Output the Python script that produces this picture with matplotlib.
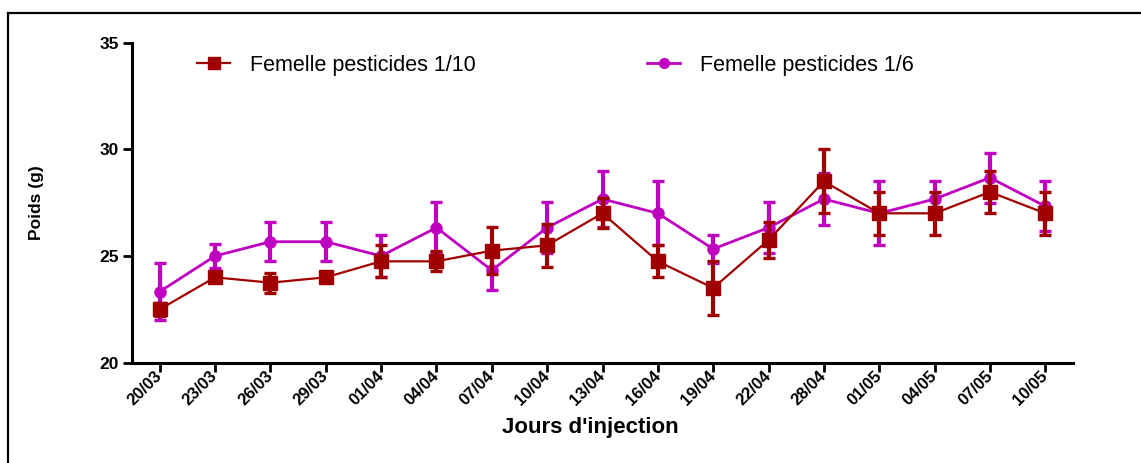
import matplotlib
matplotlib.use("Agg")
import matplotlib.pyplot as plt
from matplotlib.lines import Line2D
import numpy as np

dates = ["20/03", "23/03", "26/03", "29/03", "01/04", "04/04", "07/04", "10/04",
         "13/04", "16/04", "19/04", "22/04", "28/04", "01/05", "04/05", "07/05", "10/05"]

f10_mean = [22.5, 24.0, 23.75, 24.0, 24.75, 24.75, 25.25, 25.5,
            27.0, 24.75, 23.5, 25.75, 28.5, 27.0, 27.0, 28.0, 27.0]
f10_err = [0.3, 0.0, 0.47, 0.0, 0.75, 0.47, 1.1, 1.0,
           0.7, 0.75, 1.25, 0.85, 1.5, 1.0, 1.0, 1.0, 1.0]

f6_mean = [23.33, 25.0, 25.67, 25.67, 25.0, 26.33, 24.33, 26.33,
           27.67, 27.0, 25.33, 26.33, 27.67, 27.0, 27.67, 28.67, 27.33]
f6_err = [1.33, 0.55, 0.9, 0.9, 1.0, 1.2, 0.9, 1.2,
          1.33, 1.5, 0.67, 1.2, 1.2, 1.5, 0.85, 1.17, 1.17]

label10 = "Femelle pesticides 1/10"
label6 = "Femelle pesticides 1/6"
xlabel = "Jours d'injection"
ylabel = "Poids (g)"

RED = "#A00000"
MAG = "#C000C0"

plt.rcParams['font.family'] = ['Liberation Sans', 'DejaVu Sans']

fig = plt.figure(figsize=(11.41, 4.63), dpi=100)
W, H = 1141, 463
ax = fig.add_axes([132 / W, 1 - 362.7 / H, (1073 - 132) / W, (362.7 - 42.6) / H])

x = np.arange(len(dates))
ax.errorbar(x, f6_mean, yerr=f6_err, color=MAG, marker='o', markersize=8,
            linewidth=2.0, elinewidth=3.0, capsize=4.2, capthick=2.4, zorder=2)
ax.errorbar(x, f10_mean, yerr=f10_err, color=RED, marker='s', markersize=9.5,
            linewidth=1.6, elinewidth=3.0, capsize=4.2, capthick=2.4, zorder=3)

ax.set_xlim(-0.5, len(dates) - 0.5)
ax.set_ylim(20, 35)
ax.set_yticks([20, 25, 30, 35])
ax.set_xticks(x)
ax.set_xticklabels(dates, rotation=45, ha='right', va='center',
                   rotation_mode='anchor', fontsize=12, fontweight='bold')
for lab in ax.get_yticklabels():
    lab.set_fontsize(12.5)
    lab.set_fontweight('bold')

for s in ['top', 'right']:
    ax.spines[s].set_visible(False)
ax.spines['left'].set_linewidth(2.2)
ax.spines['bottom'].set_linewidth(2.2)
ax.tick_params(axis='both', width=2.0, length=6.5, pad=3)
ax.tick_params(axis='x', pad=1)

ax.set_xlabel(xlabel, fontsize=16, fontweight='bold')
ax.xaxis.set_label_coords((590 - 132) / (1073 - 132), -0.17)
ax.set_ylabel(ylabel, fontsize=12.5, fontweight='bold')
ax.yaxis.set_label_coords((44 - 132) / (1073 - 132), 0.5)

h10 = Line2D([], [], color=RED, marker='s', markersize=8, linewidth=1.6)
h6 = Line2D([], [], color=MAG, marker='o', markersize=7, linewidth=2.0)
legprops = dict(size=15.5)
leg1 = fig.legend([h10], [label10], loc='center left',
                  bbox_to_anchor=(178 / W, 1 - 65 / H), frameon=False,
                  handlelength=1.5, handletextpad=0.95, prop=legprops)
leg2 = fig.legend([h6], [label6], loc='center left',
                  bbox_to_anchor=(628 / W, 1 - 65 / H), frameon=False,
                  handlelength=1.5, handletextpad=0.95, prop=legprops)

# frame around figure (cropped on right / bottom)
fig.add_artist(Line2D([8 / W, 1.0], [1 - 12.7 / H, 1 - 12.7 / H],
                      transform=fig.transFigure, color='black', linewidth=1.6))
fig.add_artist(Line2D([8 / W, 8 / W], [1 - 12.7 / H, 0.0],
                      transform=fig.transFigure, color='black', linewidth=1.6))

fig.savefig("out.png", dpi=100)
